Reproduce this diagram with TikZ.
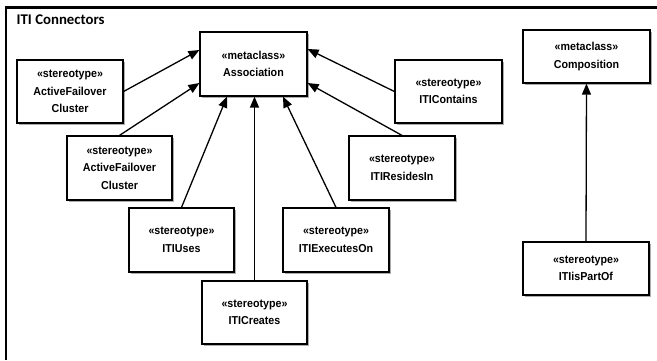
\documentclass[tikz,border=0pt]{standalone}
\usepackage{fontspec}
\usetikzlibrary{arrows.meta,shadows}
\newfontfamily\boxfont[FakeStretch=0.93]{Liberation Sans}
\newfontfamily\titlefont{Carlito}

\tikzset{
  umlbox/.style={draw, line width=1.2pt, fill=white, inner sep=0pt, align=center,
    font=\boxfont\bfseries\fontsize{11.5}{17.5}\selectfont,
    drop shadow={shadow xshift=2.2pt, shadow yshift=-2.2pt, fill=black!40, opacity=0.8}},
  gen/.style={line width=1.3pt, -{Triangle[length=11pt,width=9pt]}},
  frameline/.style={line width=2.4pt}
}

\begin{document}
\begin{tikzpicture}[x=1pt,y=-1pt]
  \useasboundingbox (0,0) rectangle (657,360);

  % diagram frame: top and left rules only
  \coordinate (fl) at (5.7,360);
  \coordinate (fc) at (5.7,7.5);
  \coordinate (fr) at (657,7.5);
  \draw[frameline] (fl) -- (fc) -- (fr);
  \node[anchor=base west, inner sep=0pt, font=\titlefont\bfseries\fontsize{14.8}{16}\selectfont] (title) at (16.5,24.8) {ITI Connectors};

  % metaclasses
  \node[umlbox, minimum width=107pt, minimum height=64pt] (assoc) at (253.5,64) {«metaclass»\\Association};
  \node[umlbox, minimum width=127pt, minimum height=53pt] (comp) at (586.5,56.5) {«metaclass»\\Composition};

  % stereotypes extending Association
  \node[umlbox, minimum width=106pt, minimum height=63pt] (afcA) at (70,91.5) {«stereotype»\\ActiveFailover\\Cluster};
  \node[umlbox, minimum width=105pt, minimum height=64pt] (afcB) at (119.5,168) {«stereotype»\\ActiveFailover\\Cluster};
  \node[umlbox, minimum width=105pt, minimum height=64pt] (uses) at (181.5,240) {«stereotype»\\ITIUses};
  \node[umlbox, minimum width=105pt, minimum height=63pt] (creates) at (254.5,312.5) {«stereotype»\\ITICreates};
  \node[umlbox, minimum width=106pt, minimum height=64pt] (exec) at (336,240) {«stereotype»\\ITIExecutesOn};
  \node[umlbox, minimum width=107pt, minimum height=63pt] (contains) at (448.5,91.5) {«stereotype»\\ITIContains};
  \node[umlbox, minimum width=106pt, minimum height=64pt] (resides) at (402,168) {«stereotype»\\ITIResidesIn};

  % stereotype extending Composition
  \node[umlbox, minimum width=126pt, minimum height=53pt] (part) at (586,268.5) {«stereotype»\\ITIisPartOf};

  % generalisation arrows
  \draw[gen] (afcA.east) -- ([yshift=14pt]assoc.west);
  \draw[gen] (afcB.north) -- ([yshift=-19pt]assoc.west);
  \draw[gen] (uses.north) -- ([xshift=-26.5pt]assoc.south);
  \draw[gen] (creates.north) -- (creates.north |- assoc.south);
  \draw[gen] (exec.north) -- ([xshift=29.5pt]assoc.south);
  \draw[gen] (contains.west) -- ([yshift=15pt]assoc.east);
  \draw[gen] (resides.north) -- ([yshift=-19pt]assoc.east);
  \draw[gen] (part.north) -- (comp.south);
\end{tikzpicture}
\end{document}
